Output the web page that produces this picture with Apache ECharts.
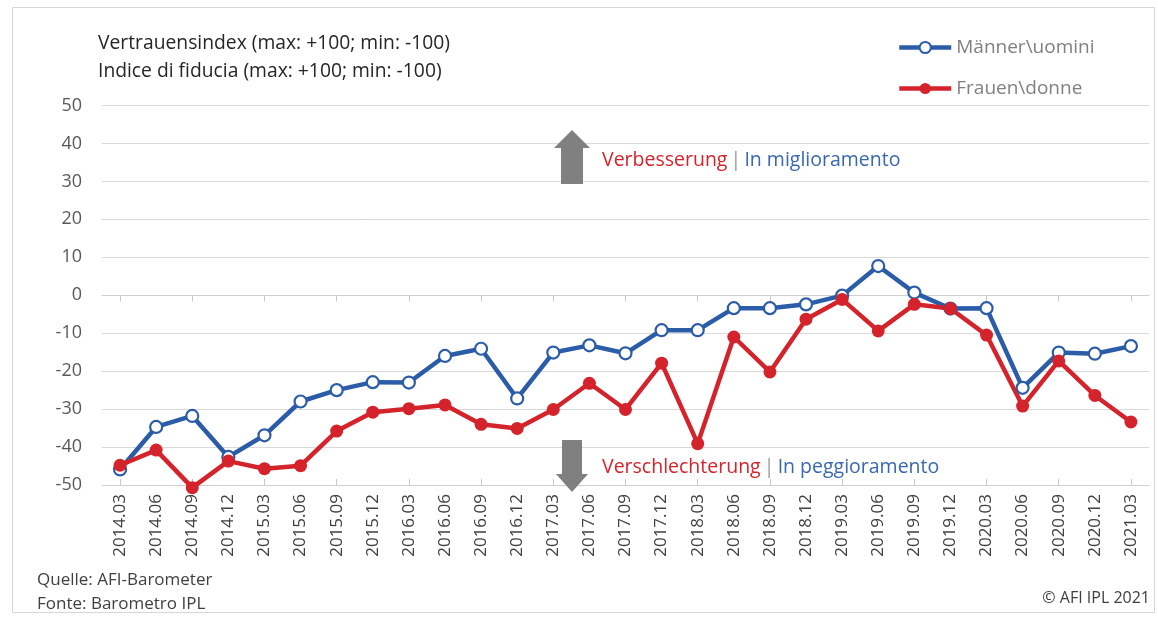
<!DOCTYPE html>
<html><head><meta charset="utf-8">
<script src="https://cdn.jsdelivr.net/npm/echarts@6/dist/echarts.min.js"></script>
<style>html,body{margin:0;padding:0;background:#fff}#c{width:1158px;height:618px}</style>
</head><body><div id="c"></div>
<script>
const categories = ['2014.03','2014.06','2014.09','2014.12','2015.03','2015.06','2015.09','2015.12',
  '2016.03','2016.06','2016.09','2016.12','2017.03','2017.06','2017.09','2017.12',
  '2018.03','2018.06','2018.09','2018.12','2019.03','2019.06','2019.09','2019.12',
  '2020.03','2020.06','2020.09','2020.12','2021.03'];
const maenner = [-45.9,-34.7,-31.8,-42.6,-36.9,-28,-25,-22.9,-23,-16,-14.1,-27.2,-15.1,-13.2,-15.3,-9.2,-9.2,-3.4,-3.4,-2.4,-0.1,7.7,0.7,-3.5,-3.4,-24.4,-15.1,-15.4,-13.4];
const frauen = [-44.8,-40.8,-50.7,-43.7,-45.7,-44.9,-35.8,-30.8,-29.9,-28.9,-34,-35.1,-30.1,-23.2,-30.1,-17.9,-39.1,-11,-20.2,-6.3,-1.1,-9.4,-2.4,-3.5,-10.5,-29.2,-17.3,-26.4,-33.4];
const seriesNames = ['M\u00e4nner\\uomini', 'Frauen\\donne'];
const yMin = -50, yMax = 50, yInterval = 10;
const titleLines = ['Vertrauensindex (max: +100; min: -100)', 'Indice di fiducia (max: +100; min: -100)'];
const sourceLines = ['Quelle: AFI-Barometer', 'Fonte: Barometro IPL'];
const copyright = '\u00a9 AFI IPL 2021';

const BLUE = '#2b5ca8', RED = '#d5232b';
const FONT = '"Open Sans", "Noto Sans", sans-serif';
const chart = echarts.init(document.getElementById('c'), null, {renderer: 'canvas'});

const tickAxis = (inside) => ({
  type: 'category', data: categories, boundaryGap: true, position: 'bottom',
  axisLine: {show: true, onZero: true, lineStyle: {color: '#d0d0d0', width: 1}},
  axisTick: {show: true, alignWithLabel: true, inside: inside, length: 6, lineStyle: {color: '#c8c8c8'}},
  axisLabel: {show: false}, splitLine: {show: false}
});

chart.setOption({
  animation: false,
  backgroundColor: '#fff',
  textStyle: {fontFamily: FONT},
  grid: {left: 102, right: 9, top: 105.5, bottom: 133, containLabel: false},
  legend: {
    orient: 'vertical', left: 897, top: 38, padding: 0,
    itemWidth: 52, itemHeight: 14, itemGap: 22,
    lineStyle: {width: 4.5},
    textStyle: {fontSize: 19, color: '#808080', fontFamily: FONT},
    data: seriesNames
  },
  xAxis: [
    {
      type: 'category', data: categories, boundaryGap: true, position: 'bottom',
      axisLine: {show: false, onZero: false}, axisTick: {show: false},
      axisLabel: {rotate: 90, interval: 0, fontSize: 17, color: '#404040', margin: 9, fontFamily: FONT},
      splitLine: {show: false}
    },
    tickAxis(false),
    tickAxis(true)
  ],
  yAxis: {
    type: 'value', min: yMin, max: yMax, interval: yInterval,
    axisLine: {show: false}, axisTick: {show: false},
    axisLabel: {fontSize: 18, color: '#595959', margin: 20, fontFamily: FONT},
    splitLine: {lineStyle: {color: '#d9d9d9', width: 1}}
  },
  series: [
    {
      name: seriesNames[0], type: 'line', data: maenner, xAxisIndex: 0,
      symbol: 'circle', symbolSize: 12, clip: false,
      lineStyle: {color: BLUE, width: 4.5},
      itemStyle: {color: '#fff', borderColor: BLUE, borderWidth: 2.2}
    },
    {
      name: seriesNames[1], type: 'line', data: frauen, xAxisIndex: 0,
      symbol: 'circle', symbolSize: 13, clip: false,
      lineStyle: {color: RED, width: 4.5},
      itemStyle: {color: RED, borderColor: RED, borderWidth: 0}
    }
  ],
  graphic: [
    {type: 'rect', z: 0, shape: {x: 12.5, y: 7.5, width: 1142, height: 605}, style: {fill: 'none', stroke: '#d6d6d6', lineWidth: 1}, silent: true},
    {type: 'text', x: 98, y: 44, style: {text: titleLines[0], fontSize: 19.3, fill: '#262626', fontFamily: FONT, verticalAlign: 'middle'}},
    {type: 'text', x: 98, y: 72, style: {text: titleLines[1], fontSize: 19.3, fill: '#262626', fontFamily: FONT, verticalAlign: 'middle'}},
    {type: 'polygon', z: 100, shape: {points: [[572,130],[590,148],[583,148],[583,184],[561,184],[561,148],[554,148]]}, style: {fill: '#808080'}},
    {type: 'polygon', z: 100, shape: {points: [[562,440],[582,440],[582,474],[588,474],[572,492],[556,474],[562,474]]}, style: {fill: '#808080'}},
    {type: 'text', z: 100, x: 602, y: 160, style: {
      text: '{r|Verbesserung} {g||} {b|In miglioramento}', verticalAlign: 'middle', fontFamily: FONT,
      rich: {r: {fill: RED, fontSize: 19.5, fontFamily: FONT}, g: {fill: '#999', fontSize: 19.5, fontFamily: FONT}, b: {fill: '#3a68b0', fontSize: 19.5, fontFamily: FONT}}
    }},
    {type: 'text', z: 100, x: 602, y: 467, style: {
      text: '{r|Verschlechterung} {g||} {b|In peggioramento}', verticalAlign: 'middle', fontFamily: FONT,
      rich: {r: {fill: RED, fontSize: 19.5, fontFamily: FONT}, g: {fill: '#999', fontSize: 19.5, fontFamily: FONT}, b: {fill: '#3a68b0', fontSize: 19.5, fontFamily: FONT}}
    }},
    {type: 'text', x: 37, y: 580, style: {text: sourceLines[0], fontSize: 17, fill: '#404040', fontFamily: FONT, verticalAlign: 'middle'}},
    {type: 'text', x: 37, y: 604, style: {text: sourceLines[1], fontSize: 17, fill: '#404040', fontFamily: FONT, verticalAlign: 'middle'}},
    {type: 'text', x: 1150, y: 598, style: {text: copyright, fontSize: 16, fill: '#404040', fontFamily: FONT, align: 'right', verticalAlign: 'middle'}}
  ]
});
</script></body></html>
